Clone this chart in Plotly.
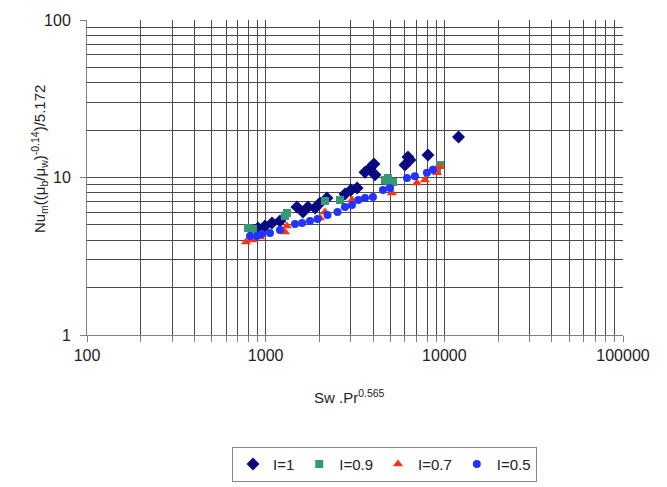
import plotly.graph_objects as go

# Sw.Pr^0.565 (x) vs Nu_m((mu_b/mu_w)^-0.14)/5.172 (y) for four values of I
x_i10 = [906, 991, 1085, 1202, 1496, 1617, 1725, 1888, 2014, 2203, 2780, 3000, 3250,
         3597, 3837, 4036, 4093, 6026, 6255, 6417, 8093, 12000]
y_i10 = [4.78, 4.92, 5.14, 5.30, 6.50, 6.04, 6.50, 6.40, 6.88, 7.41, 7.85, 8.33, 8.57,
         10.8, 11.5, 12.2, 10.4, 12.0, 13.5, 12.9, 13.9, 18.1]

x_i09 = [796, 849, 1282, 1315, 2148, 2606, 4656, 4832, 4966, 5170, 9100, 9448]
y_i09 = [4.78, 4.71, 5.70, 5.95, 7.09, 7.19, 9.64, 9.93, 8.85, 9.36, 11.2, 12.0]

x_i07 = [776, 838, 929, 1282, 1315, 2014, 2148, 3041, 5090, 7026, 7786, 9100, 9448]
y_i07 = [3.89, 4.01, 4.19, 4.51, 4.92, 5.53, 6.04, 7.19, 7.97, 9.23, 9.64, 10.7, 11.7]

x_i05 = [817, 893, 950, 1057, 1202, 1459, 1600, 1770, 1950, 2219, 2524, 2780, 3041,
         3300, 3597, 3985, 4532, 4966, 6180, 6844, 7990, 8630]
y_i05 = [4.25, 4.25, 4.38, 4.45, 4.64, 5.07, 5.14, 5.30, 5.45, 5.78, 6.04, 6.50, 6.68,
         7.19, 7.41, 7.52, 8.33, 8.57, 9.93, 10.2, 10.7, 11.2]

x_ticks = [100, 1000, 10000, 100000]
y_ticks = [1, 10, 100]

series = [
    ("I=1", x_i10, y_i10, "diamond", "#0A0A80", 10),
    ("I=0.9", x_i09, y_i09, "square", "#339977", 8),
    ("I=0.7", x_i07, y_i07, "triangle-up", "#FF3311", 9),
    ("I=0.5", x_i05, y_i05, "circle", "#2233FF", 8),
]

fig = go.Figure()
for name, xs, ys, sym, col, size in series:
    fig.add_trace(go.Scatter(
        x=xs, y=ys, mode="markers", name=name,
        marker=dict(symbol=sym, color=col, size=size, line=dict(width=0)),
    ))

def minor_vals(ticks):
    vals = []
    for t in ticks[:-1]:
        vals += [t * k for k in range(2, 10)]
    return vals

grid_col = "#4a4a4a"
font_fam = "Liberation Sans, Arial, sans-serif"

fig.update_xaxes(
    type="log", range=[2, 5],
    tickvals=x_ticks, ticktext=[str(v) for v in x_ticks],
    showgrid=True, gridcolor=grid_col, gridwidth=1,
    showline=True, linecolor="#808080", linewidth=1,
    ticks="outside", ticklen=6, tickcolor="#808080",
    minor=dict(tickvals=minor_vals(x_ticks), showgrid=True, gridcolor=grid_col,
               gridwidth=1, ticks="outside", ticklen=6, tickcolor="#808080"),
    tickfont=dict(size=16, color="#222222", family=font_fam),
    zeroline=False,
)
fig.update_yaxes(
    type="log", range=[0, 2],
    tickvals=y_ticks, ticktext=[str(v) for v in y_ticks],
    showgrid=True, gridcolor=grid_col, gridwidth=1,
    showline=True, linecolor="#808080", linewidth=1,
    ticks="outside", ticklen=6, tickcolor="#808080",
    ticklabelstandoff=6,
    minor=dict(tickvals=minor_vals(y_ticks), showgrid=True, gridcolor=grid_col,
               gridwidth=1, ticks=""),
    tickfont=dict(size=16, color="#222222", family=font_fam),
    zeroline=False,
)

fig.add_annotation(
    text="Nu<sub>m</sub>((\u03bc<sub>b</sub>/\u03bc<sub>w</sub>)<sup>-0.14</sup>)/5.172",
    xref="paper", yref="paper", x=-0.112, y=0.56, textangle=-90,
    showarrow=False, font=dict(size=15, color="#222222", family=font_fam),
)
fig.add_annotation(
    text="Sw .Pr<sup>0.565</sup>",
    xref="paper", yref="paper", x=0.49, y=-0.232,
    showarrow=False, font=dict(size=15, color="#222222", family=font_fam),
)

fig.update_layout(
    width=667, height=487,
    margin=dict(l=87, r=44, t=20, b=152, autoexpand=False),
    paper_bgcolor="white", plot_bgcolor="white",
    font=dict(family=font_fam, color="#222222"),
    showlegend=True,
    legend=dict(
        orientation="h", x=0.555, xanchor="center", y=-0.355, yanchor="top",
        bordercolor="#888888", borderwidth=1,
        font=dict(size=15, family=font_fam, color="#222222"),
        itemwidth=30, tracegroupgap=0,
    ),
)

fig.write_html("out.html")
